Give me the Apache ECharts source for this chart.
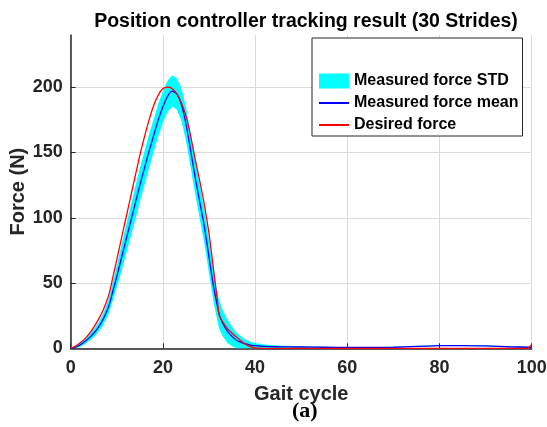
<!DOCTYPE html>
<html>
<head>
<meta charset="utf-8">
<script src="https://cdn.jsdelivr.net/npm/echarts@6/dist/echarts.min.js"></script>
<style>
	html, body { margin: 0; padding: 0; background: #fff; }
	#main { width: 547px; height: 427px; }
</style>
</head>
<body>
<div id="main"></div>
<script>
///////////////tracking result (30 strides)/////////////
var gaitX = [0, 1, 2, 3, 4, 5, 6, 7, 8, 8.5, 9, 10, 11, 12, 13, 14, 15, 16, 17, 18, 19, 20,
	21, 22, 23, 24, 25, 26, 27, 28, 29, 30, 31, 32, 32.2, 33, 34, 35, 36, 37, 38, 39, 40,
	42, 45, 50, 55, 60, 65, 70, 75, 80, 85, 90, 95, 99, 100];
var desiredForce = [0, 1.5, 4, 7, 11, 16, 22, 29, 38, 44, 52, 68, 84, 100, 116, 132, 148, 162, 175, 186, 194, 199,
	200, 199, 195, 188, 178, 163, 145, 128, 110, 88, 60, 31, 25.6, 20, 15, 11.5, 8.5, 5.5, 3, 1.3, 0.3,
	0, 0, 0, 0, 0, 0, 0, 0, 0, 0, 0, 0, 0, 2.5];
var meanForce = [0, 0.8, 2.5, 5, 8, 11.5, 16, 22, 30, 35, 42, 55, 69, 83, 97, 111, 125, 138, 151, 163, 175, 185,
	193, 197, 195, 187, 172, 152, 131, 112, 93, 70, 47, 29, 26, 19, 13, 9, 6, 4.5, 3.3, 2.5, 2,
	1.5, 1.2, 1, 0.8, 0.6, 0.6, 0.8, 1.4, 2, 2.1, 1.8, 1.2, 0.8, 0.6];
var stdForce = [0.5, 1, 1.5, 2, 2.5, 3, 3.5, 4.5, 5.5, 6, 7, 8.5, 10, 11, 12, 12.5, 13, 13, 13, 12.5, 12.5, 12,
	12, 12, 12, 12.5, 13, 13, 13, 13, 13, 12.5, 12, 11, 11, 10, 9, 7.5, 6, 4.5, 3.5, 2.5, 2,
	1.5, 1, 0.6, 0.4, 0.3, 0.3, 0.3, 0.3, 0.3, 0.3, 0.3, 0.3, 0.3, 0.3];
var xTicks = [0, 20, 40, 60, 80, 100];
var yTicks = [0, 50, 100, 150, 200];

var FONT = '"Liberation Sans", Arial, Helvetica, sans-serif';

function pairs(ys) {
	var out = [];
	for (var i = 0; i < gaitX.length; i++) {
		out.push([gaitX[i], ys[i]]);
	}
	return out;
}

// std band: polygon mean+std forward, mean-std back
function renderBand(params, api) {
	var pts = [];
	for (var i = 0; i < gaitX.length; i++) {
		pts.push(api.coord([gaitX[i], meanForce[i] + stdForce[i]]));
	}
	for (var j = gaitX.length - 1; j >= 0; j--) {
		pts.push(api.coord([gaitX[j], Math.max(0, meanForce[j] - stdForce[j])]));
	}
	return {
		type: 'polygon',
		shape: { points: pts },
		style: { fill: '#00ffff' }
	};
}

var myChart = echarts.init(document.getElementById('main'));
myChart.setOption({
	animation: false,
	backgroundColor: '#fff',
	title: {
		text: 'Position controller tracking result (30 Strides)',
		left: 301,
		textAlign: 'center',
		top: 7,
		textStyle: { fontFamily: FONT, fontSize: 19.5, fontWeight: 'bold', color: '#000' }
	},
	legend: {
		orient: 'vertical',
		left: 312,
		top: 38,
		padding: [35, 4, 3, 6],
		itemGap: 6,
		itemWidth: 30,
		itemHeight: 15,
		borderColor: '#262626',
		borderWidth: 1,
		backgroundColor: '#fff',
		data: [
			{ name: 'Measured force STD', icon: 'rect' },
			{ name: 'Measured force mean', itemStyle: { opacity: 0 } },
			{ name: 'Desired force', itemStyle: { opacity: 0 } }
		],
		textStyle: { fontFamily: FONT, fontSize: 16, fontWeight: 'bold', color: '#000' }
	},
	grid: { left: 70.7, right: 15.3, top: 35, bottom: 78.7, containLabel: false, outerBoundsMode: 'none' },
	xAxis: {
		type: 'value',
		min: xTicks[0],
		max: xTicks[xTicks.length - 1],
		interval: xTicks[1] - xTicks[0],
		name: 'Gait cycle',
		nameLocation: 'middle',
		nameGap: 36,
		nameMoveOverlap: false,
		nameTextStyle: { fontFamily: FONT, fontSize: 20, fontWeight: 'bold', color: '#262626' },
		axisLine: { lineStyle: { color: '#262626', width: 1.5 } },
		axisTick: { inside: true, length: 5, lineStyle: { color: '#262626' } },
		axisLabel: { fontFamily: FONT, fontSize: 18, fontWeight: 'bold', color: '#262626', margin: 11 },
		splitLine: { show: true, lineStyle: { color: '#dcdcdc', width: 1 } }
	},
	yAxis: {
		type: 'value',
		min: 0,
		max: 240,
		interval: yTicks[1] - yTicks[0],
		name: 'Force (N)',
		nameLocation: 'middle',
		nameGap: 42,
		nameMoveOverlap: false,
		nameTextStyle: { fontFamily: FONT, fontSize: 20, fontWeight: 'bold', color: '#262626' },
		axisLine: { show: true, lineStyle: { color: '#262626', width: 1.5 } },
		axisTick: { show: true, inside: true, length: 5, lineStyle: { color: '#262626' } },
		axisLabel: { fontFamily: FONT, fontSize: 18, fontWeight: 'bold', color: '#262626', margin: 8, showMaxLabel: false },
		splitLine: { show: true, showMaxLine: false, lineStyle: { color: '#dcdcdc', width: 1 } }
	},
	graphic: [{
		type: 'text',
		left: 292,
		top: 400,
		style: { text: '(a)', font: 'bold 22px "Liberation Serif", "Times New Roman", serif', fill: '#000' }
	}],
	series: [
		{
			name: 'Measured force STD',
			type: 'custom',
			silent: true,
			itemStyle: { color: '#00ffff' },
			renderItem: renderBand,
			data: [[0, 0]]
		},
		{
			name: 'Measured force mean',
			type: 'line',
			symbol: 'none',
			smooth: 0.2,
			itemStyle: { color: '#0000ff' },
			lineStyle: { color: '#0000ff', width: 1.3 },
			data: pairs(meanForce)
		},
		{
			name: 'Desired force',
			type: 'line',
			symbol: 'none',
			smooth: 0.15,
			itemStyle: { color: '#ff0000' },
			lineStyle: { color: '#ff0000', width: 1.3 },
			data: pairs(desiredForce)
		}
	]
});
</script>
</body>
</html>
